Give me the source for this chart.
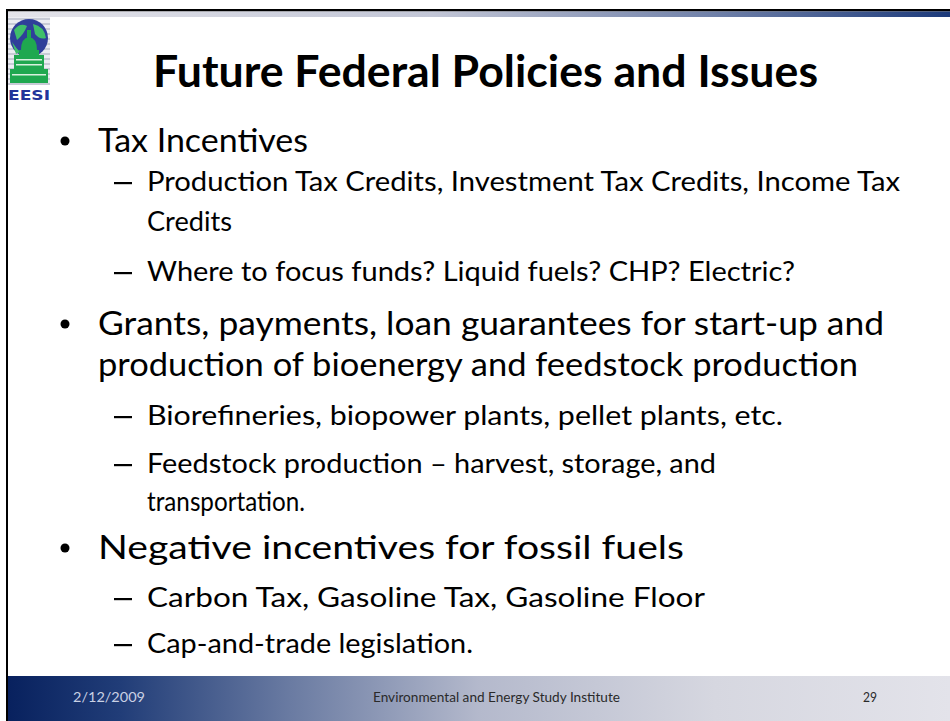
import React from "react";

const title = "Future Federal Policies and Issues";

// level: 0 = bullet, 1 = dash, 2 = continuation of level 0, 3 = continuation of level 1
const lines: string[] = [
  "Tax Incentives",
  "Production Tax Credits, Investment Tax Credits, Income Tax",
  "Credits",
  "Where to focus funds? Liquid fuels? CHP? Electric?",
  "Grants, payments, loan guarantees for start-up and",
  "production of bioenergy and feedstock production",
  "Biorefineries, biopower plants, pellet plants, etc.",
  "Feedstock production \u2013 harvest, storage, and",
  "transportation.",
  "Negative incentives for fossil fuels",
  "Carbon Tax, Gasoline Tax, Gasoline Floor",
  "Cap-and-trade legislation.",
];
const levels: number[] = [0, 1, 3, 1, 0, 2, 1, 1, 3, 0, 1, 1];
const baselines: number[] = [152, 191, 231, 281, 335, 376, 425, 473, 511, 559, 607, 653];
const widths: number[] = [210, 753, 85, 648, 786, 760, 636, 569, 158, 586, 558, 326];

const footerTexts: string[] = ["2/12/2009", "Environmental and Energy Study Institute", "29"];

const FONT = "Lato, 'Open Sans', sans-serif";

function Logo() {
  const stripes = [];
  for (let i = 0; i < 14; i++) {
    stripes.push(
      <rect key={i} x={8} y={18 + i * 5} width={42} height={2} fill="#c8cbd6" />
    );
  }
  return (
    <g>
      <rect x={8} y={17} width={42} height={68} fill="#ecedf2" />
      {stripes}
      <circle cx={29} cy={38} r={19} fill="#2f3f9a" />
      <path d="M14,30 Q20,22 27,26 Q24,34 17,40 Z" fill="#3fbf6a" />
      <path d="M33,24 Q44,26 46,38 Q40,40 35,34 Z" fill="#3fbf6a" />
      <path d="M12,42 Q16,48 20,52 L16,54 Z" fill="#3fbf6a" />
      {/* capitol */}
      <rect x={27} y={30} width={4} height={8} fill="#1fa84f" />
      <path d="M21,50 Q21,38 29,37 Q37,38 37,50 Z" fill="#1fa84f" />
      <rect x={19} y={50} width={20} height={5} fill="#1fa84f" />
      <rect x={14} y={55} width={30} height={14} fill="#1fa84f" />
      <rect x={10} y={69} width={38} height={14} fill="#1fa84f" />
      <rect x={16} y={59} width={26} height={1.5} fill="#d9f0de" />
      <rect x={16} y={64} width={26} height={1.5} fill="#d9f0de" />
      <rect x={12} y={74} width={34} height={1.5} fill="#d9f0de" />
      <text x={8} y={100} fontFamily="'DejaVu Sans', sans-serif" fontWeight="bold"
        fontSize={14} fill="#22359a" textLength={42} lengthAdjust="spacingAndGlyphs">EESI</text>
    </g>
  );
}

export default function App() {
  const W = 950, H = 721;
  const footerTop = 676;
  return (
    <svg width={W} height={H} style={{ position: "absolute", left: 0, top: 0 }}>
      <defs>
        <linearGradient id="topbar" x1="0" x2="1" y1="0" y2="0">
          <stop offset="0" stopColor="#e4e4ea" />
          <stop offset="0.45" stopColor="#c2c6d6" />
          <stop offset="0.75" stopColor="#6f80a8" />
          <stop offset="1" stopColor="#1c3a7a" />
        </linearGradient>
        <linearGradient id="footer" x1="0" x2="1" y1="0" y2="0">
          <stop offset="0" stopColor="#08215e" />
          <stop offset="0.12" stopColor="#213d78" />
          <stop offset="0.3" stopColor="#6a7ba2" />
          <stop offset="0.5" stopColor="#b4b9cc" />
          <stop offset="0.75" stopColor="#d6d7e0" />
          <stop offset="1" stopColor="#e3e3ea" />
        </linearGradient>
      </defs>
      <rect x={0} y={0} width={W} height={H} fill="#ffffff" />
      {/* top border and bar */}
      <rect x={6} y={9} width={W - 6} height={2.5} fill="#000" />
      <rect x={8} y={11.5} width={W - 8} height={5.5} fill="url(#topbar)" />
      {/* left border */}
      <rect x={6} y={9} width={2} height={H - 9} fill="#000" />
      <Logo />
      {/* title */}
      <text x={153} y={87} fontFamily={FONT} fontWeight="bold" fontSize={44} fill="#000"
        textLength={665} lengthAdjust="spacingAndGlyphs">{title}</text>
      {lines.map((t, i) => {
        const lv = levels[i];
        const x = lv === 0 || lv === 2 ? 98 : 147;
        const fs = lv === 0 || lv === 2 ? 33 : 27;
        return (
          <g key={i}>
            {lv === 0 && (
              <circle cx={65} cy={baselines[i] - 11} r={4.5} fill="#000" />
            )}
            {lv === 1 && (
              <rect x={114} y={baselines[i] - 9} width={18} height={2.2} fill="#000" />
            )}
            <text x={x} y={baselines[i]} fontFamily={FONT} fontSize={fs} fill="#000"
              textLength={widths[i]} lengthAdjust="spacingAndGlyphs">{t}</text>
          </g>
        );
      })}
      {/* footer */}
      <rect x={8} y={footerTop} width={W - 8} height={H - footerTop} fill="url(#footer)" />
      <text x={73} y={702} fontFamily={FONT} fontSize={13} fill="#c9d1e4"
        textLength={72} lengthAdjust="spacingAndGlyphs">{footerTexts[0]}</text>
      <text x={373} y={702} fontFamily={FONT} fontSize={13} fill="#2a2a2a"
        textLength={247} lengthAdjust="spacingAndGlyphs">{footerTexts[1]}</text>
      <text x={863} y={702} fontFamily={FONT} fontSize={13} fill="#2a2a2a"
        textLength={14} lengthAdjust="spacingAndGlyphs">{footerTexts[2]}</text>
    </svg>
  );
}
